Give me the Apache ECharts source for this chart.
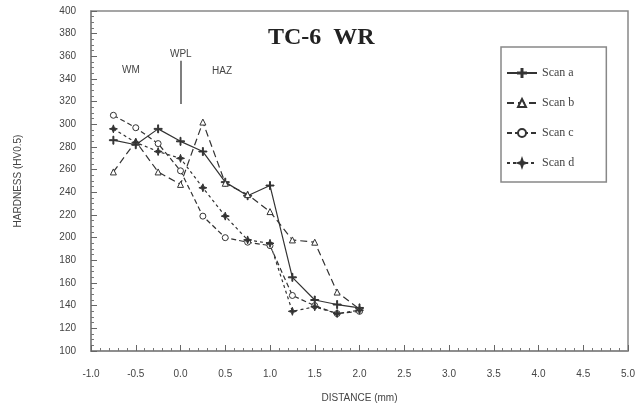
<!DOCTYPE html>
<html>
<head>
<meta charset="utf-8">
<script src="https://cdn.jsdelivr.net/npm/echarts@6/dist/echarts.min.js"></script>
<style>
  html, body { margin: 0; padding: 0; background: #fff; }
  #chart { width: 638px; height: 411px; }
</style>
</head>
<body>
<div id="chart"></div>
<script>
// distance from weld fusion line (mm)
const distances = [-0.75, -0.5, -0.25, 0, 0.25, 0.5, 0.75, 1.0, 1.25, 1.5, 1.75, 2.0]
const scanA = [286, 282, 296, 285, 276, 249, 237, 246, 165, 145, 141, 138]
const scanB = [258, 285, 258, 247, 302, 248, 238, 223, 198, 196, 152, 137]
const scanC = [308, 297, 283, 259, 219, 200, 196, 193, 149, 140, 133, 135]
const scanD = [296, 284, 276, 270, 244, 219, 198, 195, 135, 139, 133, 136]
const seriesNames = ['Scan a', 'Scan b', 'Scan c', 'Scan d']
// WPL marker line (x, hardness from / to)
const wplLine = [[0, 356], [0, 318]]

const ink = '#333'
const plusPath = 'path://M4.4,0H5.6V4.4H10V5.6H5.6V10H4.4V5.6H0V4.4H4.4Z'
const starPath = 'path://M5,0L6.3,3.7L10,5L6.3,6.3L5,10L3.7,6.3L0,5L3.7,3.7Z'

function pairs(values) {
  return distances.map((x, i) => [x, values[i]])
}

const chart = echarts.init(document.getElementById('chart'))

const styles = [
  { data: scanA, symbol: plusPath, size: 8, dash: 'solid', fill: ink },
  { data: scanB, symbol: 'triangle', size: 6, dash: [7, 4], fill: '#fff' },
  { data: scanC, symbol: 'circle', size: 6, dash: [5, 3], fill: '#fff' },
  { data: scanD, symbol: starPath, size: 8, dash: [3, 3], fill: ink },
]

chart.setOption({
  animation: false,
  textStyle: { fontFamily: 'Liberation Sans, Arial, sans-serif' },
  grid: {
    left: 91, right: 10, top: 11, height: 340,
    show: true, borderColor: '#888', borderWidth: 1.5,
  },
  legend: {
    orient: 'vertical',
    left: 501, top: 47,
    padding: [20, 32, 13, 5],
    itemGap: 18,
    itemWidth: 30, itemHeight: 10,
    borderColor: '#888', borderWidth: 1.5,
    textStyle: { fontFamily: 'Liberation Serif, serif', fontSize: 12, color: '#444' },
    data: seriesNames,
  },
  xAxis: {
    type: 'value',
    min: -1, max: 5, interval: 0.5,
    name: 'DISTANCE (mm)',
    nameLocation: 'middle', nameGap: 42,
    nameTextStyle: { fontSize: 10, color: '#444' },
    axisLine: { show: true, onZero: false, lineStyle: { color: '#888', width: 1.5 } },
    axisTick: { inside: true, length: 6, lineStyle: { color: '#666' } },
    minorTick: { show: true, splitNumber: 5, length: 3, lineStyle: { color: '#777' } },
    splitLine: { show: false },
    axisLabel: {
      margin: 18, fontSize: 10, color: '#444',
      formatter: v => v.toFixed(1),
    },
  },
  yAxis: {
    type: 'value',
    min: 100, max: 400, interval: 20,
    name: 'HARDNESS (HV0.5)',
    nameLocation: 'middle', nameGap: 68,
    nameTextStyle: { fontSize: 10, color: '#444' },
    axisLine: { show: true, onZero: false, lineStyle: { color: '#888', width: 1.5 } },
    axisTick: { inside: true, length: 6, lineStyle: { color: '#666' } },
    minorTick: { show: true, splitNumber: 4, length: 3, lineStyle: { color: '#777' } },
    splitLine: { show: false },
    axisLabel: { margin: 15, fontSize: 10, color: '#444' },
  },
  graphic: [
    { type: 'text', left: 268, top: 26, style: { text: 'TC-6  WR', fontFamily: 'Liberation Serif, serif', fontWeight: 'bold', fontSize: 24, fill: '#222' } },
    { type: 'text', left: 170, top: 49, style: { text: 'WPL', fontSize: 10, fill: '#444' } },
    { type: 'text', left: 122, top: 65, style: { text: 'WM', fontSize: 10, fill: '#444' } },
    { type: 'text', left: 212, top: 66, style: { text: 'HAZ', fontSize: 10, fill: '#444' } },
  ],
  series: styles.map((s, i) => ({
    name: seriesNames[i],
    type: 'line',
    data: pairs(s.data),
    symbol: s.symbol,
    symbolSize: s.size,
    showAllSymbol: true,
    lineStyle: { color: ink, width: 1.2, type: s.dash },
    itemStyle: { color: s.fill, borderColor: ink, borderWidth: 1 },
    ...(i === 0 ? {
      markLine: {
        silent: true,
        symbol: 'none',
        label: { show: false },
        lineStyle: { color: '#555', width: 1.5, type: 'solid' },
        data: [[{ coord: wplLine[0] }, { coord: wplLine[1] }]],
      },
    } : {}),
  })),
})
</script>
</body>
</html>
